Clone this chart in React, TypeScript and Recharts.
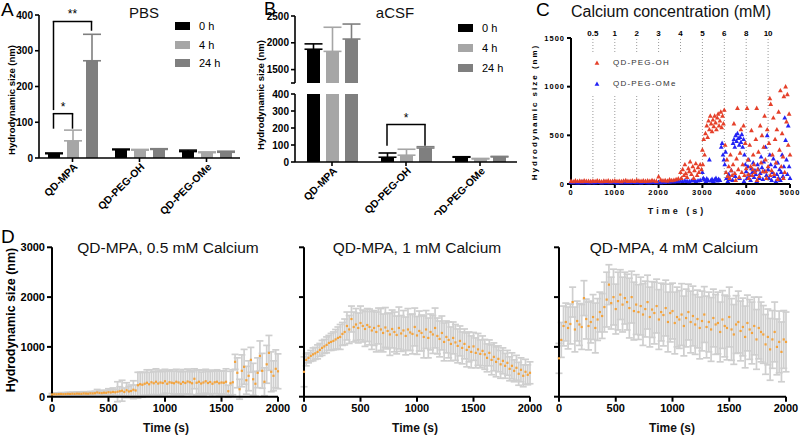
import React from "react";
import {
  BarChart,
  Bar,
  XAxis,
  YAxis,
  ErrorBar,
  ReferenceLine,
  ScatterChart,
  Scatter,
} from "recharts";

const FONT = "'Liberation Sans', Arial, Helvetica, sans-serif";

// ---- panel A / B : bar data ----
const groups = ["QD-MPA", "QD-PEG-OH", "QD-PEG-OMe"];
const seriesLabels = ["0 h", "4 h", "24 h"];
const seriesKeys = ["h0", "h4", "h24"];
const seriesColors = ["#000000", "#a6a6a6", "#7f7f7f"];

const pbs0h = [12, 23, 18];
const pbs4h = [48, 22, 15];
const pbs24h = [272, 24, 16];
const pbs0hErr = [2, 2, 4];
const pbs4hErr = [30, 2, 2];
const pbs24hErr = [74, 2, 3];

const csf0h = [1880, 28, 28];
const csf4h = [1840, 40, 18];
const csf24h = [2070, 82, 30];
const csf0hErr = [100, 25, 3];
const csf4hErr = [450, 35, 3];
const csf24hErr = [280, 8, 3];

// significance brackets: group, left bar, right bar, top, left leg end, right leg end, label
const pbsBrackets = [
  { group: "QD-MPA", from: 0, to: 1, top: 124, left: 82, right: 82, label: "*" },
  { group: "QD-MPA", from: 0, to: 2, top: 382, left: 134, right: 356, label: "**" },
];
const csfBrackets = [
  { group: "QD-PEG-OH", from: 0, to: 2, top: 220, left: 95, right: 95, label: "*" },
];

// ---- panel C : calcium titration, [time s, size nm] ----
const calciumSteps = [500, 1000, 1500, 2000, 2500, 3000, 3500, 4000, 4500];
const calciumLabels = ["0.5", "1", "2", "3", "4", "5", "6", "8", "10"];

const pegOH = [
  [0, 30], [50, 25], [100, 35], [150, 28], [200, 32], [250, 26], [300, 34], [350, 29], [400, 31], [450, 27],
  [500, 33], [550, 28], [600, 36], [650, 30], [700, 25], [750, 32], [800, 29], [850, 35], [900, 27], [950, 31],
  [1000, 34], [1050, 28], [1100, 30], [1150, 26], [1200, 33], [1250, 37], [1300, 29], [1350, 31], [1400, 35], [1450, 28],
  [1500, 40], [1550, 32], [1600, 30], [1650, 36], [1700, 29], [1750, 34], [1800, 31], [1850, 38], [1900, 33], [1950, 30],
  [2000, 75], [2050, 42], [2100, 34], [2150, 38], [2200, 32], [2250, 45], [2300, 37], [2350, 41], [2400, 48], [2450, 55],
  [2500, 120], [2520, 60], [2550, 150], [2580, 90], [2600, 200], [2620, 110], [2650, 70], [2680, 160], [2700, 130], [2720, 230],
  [2750, 100], [2780, 180], [2800, 60], [2820, 140], [2850, 210], [2880, 90], [2900, 170], [2920, 120], [2950, 200], [2980, 150],
  [3000, 350], [3010, 200], [3030, 460], [3050, 300], [3070, 520], [3100, 600], [3120, 480], [3140, 650], [3160, 560], [3180, 700],
  [3200, 620], [3220, 540], [3240, 660], [3260, 590], [3280, 700], [3300, 630], [3320, 560], [3340, 680], [3360, 720], [3380, 600],
  [3400, 650], [3420, 740], [3440, 580], [3460, 700], [3480, 620], [3500, 760],
  [3520, 400], [3540, 120], [3560, 250], [3580, 80], [3600, 180], [3620, 60], [3640, 300], [3660, 140], [3680, 90], [3700, 200],
  [3720, 620], [3740, 110], [3760, 40], [3780, 260], [3800, 780], [3820, 150], [3840, 70], [3860, 320], [3880, 560], [3900, 120],
  [3920, 200], [3940, 600], [3960, 90], [3980, 420], [4000, 160],
  [4020, 780], [4040, 250], [4060, 60], [4080, 400], [4100, 180], [4120, 550], [4140, 90], [4160, 300], [4180, 200], [4200, 120],
  [4220, 460], [4240, 780], [4260, 150], [4280, 330], [4300, 80], [4320, 600], [4340, 220], [4360, 500], [4380, 130], [4400, 380],
  [4420, 700], [4440, 250], [4460, 60], [4480, 560], [4500, 180], [4520, 420], [4540, 880], [4560, 820], [4580, 140], [4600, 300],
  [4620, 680], [4640, 100], [4660, 460], [4680, 220], [4700, 560], [4720, 50], [4740, 740], [4760, 350], [4780, 960], [4800, 180],
  [4820, 520], [4840, 280], [4860, 900], [4880, 120], [4900, 1000], [4920, 640], [4940, 920], [4960, 400], [4980, 720], [5000, 300],
  [4050, 100], [4250, 40], [4550, 90], [4850, 60], [4450, 130], [4150, 150],
];

const pegOMe = [
  [0, 18], [50, 15], [100, 20], [150, 14], [200, 17], [250, 22], [300, 16], [350, 19], [400, 13], [450, 21],
  [500, 17], [550, 15], [600, 20], [650, 18], [700, 14], [750, 22], [800, 16], [850, 19], [900, 15], [950, 21],
  [1000, 18], [1050, 14], [1100, 20], [1150, 17], [1200, 23], [1250, 16], [1300, 19], [1350, 15], [1400, 22], [1450, 18],
  [1500, 16], [1550, 20], [1600, 14], [1650, 19], [1700, 22], [1750, 17], [1800, 15], [1850, 21], [1900, 18], [1950, 16],
  [2000, 20], [2050, 17], [2100, 23], [2150, 19], [2200, 25], [2250, 21], [2300, 28], [2350, 24], [2400, 30], [2450, 26],
  [2500, 32], [2550, 28], [2600, 35], [2650, 30], [2700, 26], [2750, 33], [2800, 38], [2850, 29], [2900, 34], [2950, 40],
  [3000, 120], [3020, 60], [3050, 45], [3080, 30], [3100, 55], [3130, 40], [3160, 250], [3190, 35], [3220, 50], [3250, 30],
  [3280, 45], [3310, 60], [3340, 35], [3370, 50], [3400, 40], [3430, 380], [3450, 420], [3470, 300], [3490, 250], [3510, 200],
  [3530, 330], [3550, 60], [3580, 30], [3600, 100], [3630, 50], [3660, 140], [3690, 40],
  [3700, 420], [3720, 460], [3740, 380], [3760, 500], [3780, 440], [3800, 520], [3820, 470], [3840, 400], [3860, 480], [3880, 430],
  [3900, 510], [3920, 380], [3940, 460], [3960, 300], [3980, 200], [3750, 80], [3850, 60], [3950, 30],
  [4000, 130], [4020, 60], [4040, 180], [4060, 250], [4080, 90], [4100, 40], [4120, 160], [4140, 120], [4160, 220], [4180, 70],
  [4200, 140], [4220, 100], [4240, 30], [4260, 200], [4280, 150], [4300, 60], [4320, 110], [4340, 280], [4360, 170], [4380, 50],
  [4400, 230], [4420, 130], [4440, 380], [4460, 90], [4480, 500], [4500, 150], [4520, 60], [4540, 300], [4560, 200], [4580, 40],
  [4600, 120], [4620, 260], [4640, 80], [4660, 180], [4680, 30], [4700, 100], [4720, 220], [4740, 60], [4760, 150], [4780, 40],
  [4800, 120], [4820, 300], [4840, 80], [4860, 180], [4880, 680], [4900, 450], [4920, 250], [4940, 100], [4960, 600], [4980, 180],
  [5000, 60],
];

// ---- panel D : QD-MPA kinetics (every 20 s) ----
const kinTimes = [
  0, 20, 40, 60, 80, 100, 120, 140, 160, 180,
  200, 220, 240, 260, 280, 300, 320, 340, 360, 380,
  400, 420, 440, 460, 480, 500, 520, 540, 560, 580,
  600, 620, 640, 660, 680, 700, 720, 740, 760, 780,
  800, 820, 840, 860, 880, 900, 920, 940, 960, 980,
  1000, 1020, 1040, 1060, 1080, 1100, 1120, 1140, 1160, 1180,
  1200, 1220, 1240, 1260, 1280, 1300, 1320, 1340, 1360, 1380,
  1400, 1420, 1440, 1460, 1480, 1500, 1520, 1540, 1560, 1580,
  1600, 1620, 1640, 1660, 1680, 1700, 1720, 1740, 1760, 1780,
  1800, 1820, 1840, 1860, 1880, 1900, 1920, 1940, 1960, 1980,
  2000,
];

const ca05Size = [
  45, 50, 48, 52, 55, 50, 53, 58, 55, 60,
  57, 62, 60, 58, 65, 63, 60, 68, 66, 70,
  85, 75, 72, 80, 78, 90, 85, 95, 88, 100,
  110, 120, 95, 130, 105, 115, 140, 125, 230, 250,
  240, 260, 280, 250, 290, 270, 300, 265, 285, 275,
  310, 260, 290, 280, 270, 300, 285, 260, 295, 275,
  305, 290, 270, 360, 280, 300, 265, 285, 310, 275,
  295, 260, 290, 300, 270, 285, 280, 300, 110, 270,
  290, 700, 480, 150, 520, 600, 330, 420, 740, 350,
  260, 480, 820, 520, 300, 650, 880, 500, 420, 560,
  510,
];
const ca05Err = [
  20, 25, 22, 25, 28, 24, 26, 30, 28, 30,
  28, 32, 30, 30, 35, 32, 30, 36, 34, 38,
  60, 45, 40, 50, 45, 70, 55, 80, 60, 200,
  90, 210, 80, 150, 100, 120, 180, 110, 260, 240,
  250, 230, 260, 240, 250, 230, 260, 240, 250, 230,
  240, 250, 230, 260, 240, 250, 230, 240, 250, 230,
  250, 240, 230, 200, 250, 240, 230, 250, 240, 230,
  240, 250, 230, 240, 250, 230, 240, 260, 120, 240,
  250, 150, 300, 200, 320, 350, 280, 300, 250, 320,
  250, 300, 300, 350, 280, 380, 350, 400, 300, 380,
  350,
];

const ca1Size = [
  500, 740, 780, 820, 850, 870, 900, 940, 980, 1010,
  1040, 1080, 1100, 1120, 1150, 1180, 1200, 1260, 1300, 1420,
  1350, 1560, 1400, 1450, 1380, 1480, 1420, 1360, 1440, 1400,
  1330, 1380, 1300, 1420, 1350, 1280, 1390, 1320, 1250, 1360,
  1300, 1240, 1380, 1270, 1330, 1220, 1350, 1290, 1260, 1400,
  1230, 1320, 1280, 1200, 1350, 1180, 1300, 1250, 1380, 1220,
  1160, 1280, 1100, 1200, 1140, 1060, 1180, 1090, 1020, 1120,
  980, 1060, 940, 1000, 900, 1010, 880, 950, 860, 920,
  850, 780, 880, 740, 800, 700, 760, 650, 720, 620,
  680, 560, 620, 520, 580, 460, 540, 420, 500, 440,
  480,
];
const ca1Err = [
  300, 120, 100, 110, 130, 120, 140, 130, 150, 140,
  160, 150, 170, 180, 200, 220, 250, 230, 260, 280,
  280, 260, 300, 320, 300, 340, 320, 350, 330, 360,
  380, 350, 400, 360, 420, 380, 400, 360, 420, 380,
  400, 380, 420, 360, 400, 380, 420, 360, 400, 380,
  380, 400, 360, 420, 380, 400, 360, 380, 400, 360,
  360, 340, 380, 320, 360, 340, 320, 360, 340, 300,
  320, 300, 340, 300, 320, 280, 300, 320, 280, 300,
  300, 280, 260, 300, 280, 300, 260, 280, 260, 250,
  250, 240, 260, 220, 250, 230, 240, 220, 250, 200,
  220,
];

const ca4Size = [
  770, 1140, 1420, 1500, 1380, 1460, 1900, 1350, 1520, 1450,
  1400, 1980, 1560, 1420, 1500, 1600, 1380, 1550, 1700, 1620,
  1800, 1950, 2250, 1880, 2000, 1760, 1920, 2050, 1850, 1980,
  1900, 1780, 2000, 1720, 1850, 1700, 1820, 1650, 1760, 1900,
  1600, 1750, 1680, 1820, 1550, 1700, 1640, 1780, 1500, 1680,
  1720, 1480, 1600, 1550, 1650, 1420, 1580, 1700, 1500, 1620,
  1450, 1560, 1380, 1520, 1650, 1400, 1500, 1350, 1580, 1450,
  1480, 1300, 1550, 1420, 1380, 1600, 1350, 1250, 1450, 1500,
  1320, 1400, 1200, 1480, 1350, 1280, 1420, 1150, 1380, 1300,
  1250, 1050, 1200, 950, 1150, 1300, 1000, 1100, 900, 1150,
  1100,
];
const ca4Err = [
  300, 350, 400, 380, 420, 400, 300, 450, 400, 420,
  450, 350, 400, 480, 420, 450, 500, 420, 400, 450,
  500, 550, 400, 520, 560, 500, 580, 500, 550, 520,
  560, 600, 520, 580, 600, 550, 580, 620, 560, 540,
  600, 560, 620, 540, 600, 580, 620, 560, 600, 580,
  560, 620, 600, 580, 620, 600, 580, 560, 620, 600,
  600, 580, 620, 600, 560, 620, 600, 640, 580, 600,
  620, 600, 580, 620, 640, 600, 620, 600, 580, 620,
  600, 580, 620, 560, 600, 620, 580, 600, 620, 600,
  580, 600, 560, 620, 580, 600, 560, 620, 600, 580,
  600,
];

// ---- helpers ----
function barRows(means: number[][], errs: number[][]) {
  return groups.map((g, i) => ({
    name: g,
    h0: means[0][i],
    h4: means[1][i],
    h24: means[2][i],
    e0: [0, errs[0][i]],
    e4: [0, errs[1][i]],
    e24: [0, errs[2][i]],
  }));
}

const pbsRows = barRows([pbs0h, pbs4h, pbs24h], [pbs0hErr, pbs4hErr, pbs24hErr]);
const csfRows = barRows([csf0h, csf4h, csf24h], [csf0hErr, csf4hErr, csf24hErr]);
const csfUpper = csfRows.map((r) => ({
  ...r,
  h0: r.h0 >= 1250 ? r.h0 : null,
  h4: r.h4 >= 1250 ? r.h4 : null,
  h24: r.h24 >= 1250 ? r.h24 : null,
}));

const kin = (sizes: number[], errs: number[]) =>
  sizes.map((y, i) => ({ t: kinTimes[i], y, e: errs[i] }));
const kinPanels = [
  { title: "QD-MPA, 0.5 mM Calcium", data: kin(ca05Size, ca05Err) },
  { title: "QD-MPA, 1 mM Calcium", data: kin(ca1Size, ca1Err) },
  { title: "QD-MPA, 4 mM Calcium", data: kin(ca4Size, ca4Err) },
];

const BAR_OFFSETS = [-19, 0, 19];
const axisStyle = { stroke: "#000", strokeWidth: 1.6 };
const boldTick = (size: number) => ({ fontSize: size, fontWeight: 700, fill: "#000", fontFamily: FONT });

const SlantTick = (props: any) => {
  const { x, y, payload } = props;
  return (
    <g transform={`translate(${x + 3},${y + 1}) rotate(-45)`}>
      <text x={0} y={0} dy="0.35em" textAnchor="end" fontSize={10.5} fontWeight={700} fill="#000" fontFamily={FONT}>
        {payload.value}
      </text>
    </g>
  );
};

function bracketLines(b: any, key: string) {
  const dl = BAR_OFFSETS[b.from];
  const dr = BAR_OFFSETS[b.to];
  const line = (dx: number) => (p: any) => (
    <line x1={p.x1 + dx} y1={p.y1} x2={p.x2 + dx} y2={p.y2} stroke="#000" strokeWidth={1.5} />
  );
  return [
    <ReferenceLine key={key + "l"} segment={[{ x: b.group, y: b.top }, { x: b.group, y: b.left }]} shape={line(dl)} />,
    <ReferenceLine key={key + "r"} segment={[{ x: b.group, y: b.top }, { x: b.group, y: b.right }]} shape={line(dr)} />,
    <ReferenceLine
      key={key + "h"}
      segment={[{ x: b.group, y: b.top }, { x: b.group, y: b.top }]}
      shape={(p: any) => (
        <g>
          <line x1={p.x1 + dl - 0.75} y1={p.y1} x2={p.x1 + dr + 0.75} y2={p.y1} stroke="#000" strokeWidth={1.5} />
          <text x={p.x1 + (dl + dr) / 2} y={p.y1 - 3} textAnchor="middle" fontSize={12} fill="#000" stroke="none" fontFamily={FONT}>
            {b.label}
          </text>
        </g>
      )}
    />,
  ];
}

function renderBars(barSize: number) {
  return seriesKeys.map((k, j) => (
    <Bar key={k} dataKey={k} fill={seriesColors[j]} barSize={barSize} isAnimationActive={false}>
      <ErrorBar dataKey={"e" + k.slice(1)} direction="y" width={9} stroke={seriesColors[j]} strokeWidth={1.6} isAnimationActive={false} />
    </Bar>
  ));
}

const Letter = ({ x, y, size = 19, children }: any) => (
  <div style={{ position: "absolute", left: x, top: y, fontFamily: FONT, fontSize: size, lineHeight: 1 }}>{children}</div>
);

const VText = ({ x, y, text, size, spacing = 0 }: any) => (
  <div
    style={{
      position: "absolute",
      left: x,
      top: y,
      transform: "translate(-50%, -50%) rotate(-90deg)",
      whiteSpace: "nowrap",
      fontFamily: FONT,
      fontWeight: 700,
      fontSize: size,
      letterSpacing: spacing,
      lineHeight: 1,
    }}
  >
    {text}
  </div>
);

const CenterText = ({ x, y, text, size, bold = false, spacing = 0 }: any) => (
  <div
    style={{
      position: "absolute",
      left: x,
      top: y,
      transform: "translateX(-50%)",
      whiteSpace: "nowrap",
      fontFamily: FONT,
      fontSize: size,
      fontWeight: bold ? 700 : 400,
      letterSpacing: spacing,
      lineHeight: 1,
      color: "#111",
    }}
  >
    {text}
  </div>
);

const BarLegend = ({ x, ys }: any) => (
  <>
    {seriesLabels.map((s, j) => (
      <div key={s} style={{ position: "absolute", left: x, top: ys[j] - 6, height: 12, display: "flex", alignItems: "center", fontFamily: FONT, fontSize: 11 }}>
        <span style={{ display: "inline-block", width: 15, height: 8, background: seriesColors[j], marginRight: 9 }} />
        {s}
      </div>
    ))}
  </>
);

const triShape = (color: string) => (p: any) => {
  const { cx, cy } = p;
  if (cx == null || cy == null) return <g />;
  return <path d={`M${cx},${cy - 2.6}L${cx + 2.4},${cy + 1.8}L${cx - 2.4},${cy + 1.8}Z`} fill={color} />;
};

const dotShape = (p: any) => {
  if (p.cx == null || p.cy == null) return <g />;
  return <rect x={p.cx - 1.1} y={p.cy - 1.1} width={2.2} height={2.2} fill="#f3a23b" />;
};

const RED = "#e5402a";
const BLUE = "#2323f5";

export default function App() {
  const toPts = (arr: number[][]) => arr.map(([t, y]) => ({ t, y }));
  const kinLayout = [
    { left: 0, width: 300, ml: 10, yw: 42, mr: 22, labels: true, cx: 168 },
    { left: 262, width: 290, ml: 2, yw: 40, mr: 22, labels: false, cx: 417 },
    { left: 517, width: 283, ml: 2, yw: 40, mr: 14, labels: false, cx: 674 },
  ];

  return (
    <div style={{ position: "absolute", left: 0, top: 0, width: 800, height: 437, background: "#fff", overflow: "hidden", fontFamily: FONT }}>
      {/* ---------- A ---------- */}
      <Letter x={1} y={0}>A</Letter>
      <CenterText x={144} y={5} text="PBS" size={15} />
      <VText x={12} y={100} text="Hydrodynamic size (nm)" size={9.5} />
      <div style={{ position: "absolute", left: 0, top: 0 }}>
        <BarChart width={270} height={215} data={pbsRows} margin={{ top: 15, right: 30, bottom: 7, left: 9 }} barGap={7}>
          <XAxis dataKey="name" height={50} interval={0} tick={<SlantTick />} axisLine={axisStyle} tickLine={axisStyle} tickSize={4} />
          <YAxis width={30} domain={[0, 400]} ticks={[0, 100, 200, 300, 400]} tick={boldTick(10)} axisLine={axisStyle} tickLine={axisStyle} tickSize={4} />
          {renderBars(12)}
          {pbsBrackets.flatMap((b, i) => bracketLines(b, "pb" + i))}
        </BarChart>
      </div>
      <BarLegend x={175} ys={[26, 44.5, 63]} />

      {/* ---------- B ---------- */}
      <Letter x={264} y={0} size={18}>B</Letter>
      <CenterText x={395} y={5} text="aCSF" size={15} />
      <VText x={261} y={95} text="Hydrodynamic size (nm)" size={9.5} />
      <div style={{ position: "absolute", left: 260, top: 0 }}>
        <BarChart width={270} height={90} data={csfUpper} margin={{ top: 16, right: 13, bottom: 7, left: 3 }} barGap={6}>
          <XAxis dataKey="name" hide />
          <YAxis
            width={32}
            domain={[1250, 2500]}
            ticks={[1250, 1500, 2000, 2500]}
            tickFormatter={(v: number) => (v === 1250 ? "" : String(v))}
            tick={boldTick(10)}
            axisLine={axisStyle}
            tickLine={axisStyle}
            tickSize={4}
            allowDataOverflow
          />
          {renderBars(13)}
        </BarChart>
      </div>
      <div style={{ position: "absolute", left: 260, top: 85 }}>
        <BarChart width={270} height={130} data={csfRows} margin={{ top: 9, right: 13, bottom: 3, left: 3 }} barGap={6}>
          <XAxis dataKey="name" height={50} interval={0} tick={<SlantTick />} axisLine={axisStyle} tickLine={axisStyle} tickSize={4} />
          <YAxis width={32} domain={[0, 400]} ticks={[0, 100, 200, 300, 400]} tick={boldTick(10)} axisLine={axisStyle} tickLine={axisStyle} tickSize={4} allowDataOverflow />
          {renderBars(13)}
          {csfBrackets.flatMap((b, i) => bracketLines(b, "cb" + i))}
        </BarChart>
      </div>
      <BarLegend x={458} ys={[28, 48, 68]} />

      {/* ---------- C ---------- */}
      <Letter x={536} y={0}>C</Letter>
      <CenterText x={671} y={4} text="Calcium concentration (mM)" size={16} />
      <VText x={535} y={112} text="Hydrodynamic size (nm)" size={8} spacing={2} />
      <div style={{ position: "absolute", left: 530, top: 0 }}>
        <ScatterChart width={270} height={215} margin={{ top: 38, right: 10, bottom: 11, left: 5 }}>
          <XAxis
            type="number"
            dataKey="t"
            domain={[0, 5000]}
            ticks={[0, 1000, 2000, 3000, 4000, 5000]}
            height={20}
            tick={{ ...boldTick(7.5), letterSpacing: 1 }}
            axisLine={{ stroke: "#000", strokeWidth: 2 }}
            tickLine={{ stroke: "#000", strokeWidth: 2 }}
            tickSize={4}
          />
          <YAxis
            type="number"
            dataKey="y"
            domain={[0, 1500]}
            ticks={[0, 500, 1000, 1500]}
            width={36}
            tick={{ ...boldTick(7.5), letterSpacing: 1 }}
            axisLine={{ stroke: "#000", strokeWidth: 2 }}
            tickLine={{ stroke: "#000", strokeWidth: 2 }}
            tickSize={4}
          />
          {calciumSteps.map((t, i) => (
            <ReferenceLine
              key={t}
              x={t}
              stroke="#9a9a9a"
              strokeDasharray="1 2"
              label={{ value: calciumLabels[i], position: "top", offset: 2, fontSize: 8, fontWeight: 700, fill: "#000" }}
            />
          ))}
          <Scatter data={toPts(pegOMe)} shape={triShape(BLUE)} isAnimationActive={false} />
          <Scatter data={toPts(pegOH)} shape={triShape(RED)} isAnimationActive={false} />
        </ScatterChart>
      </div>
      <div style={{ position: "absolute", left: 591, top: 54, width: 100, height: 40, background: "#fff", fontFamily: FONT, fontSize: 8, letterSpacing: 1.2, color: "#333" }}>
        <div style={{ position: "absolute", left: 22, top: 4 }}>QD-PEG-OH</div>
        <div style={{ position: "absolute", left: 22, top: 25 }}>QD-PEG-OMe</div>
        <svg width={12} height={40} style={{ position: "absolute", left: 0, top: 0 }}>
          <path d="M6,6.4L8.4,10.8L3.6,10.8Z" fill={RED} />
          <path d="M6,27.4L8.4,31.8L3.6,31.8Z" fill={BLUE} />
        </svg>
      </div>
      <CenterText x={677} y={207} text="Time (s)" size={9} bold spacing={3} />

      {/* ---------- D ---------- */}
      <Letter x={1} y={227}>D</Letter>
      <VText x={11} y={320} text="Hydrodynamic size (nm)" size={12.5} />
      {kinPanels.map((p, i) => {
        const L = kinLayout[i];
        return (
          <React.Fragment key={p.title}>
            <div style={{ position: "absolute", left: L.left, top: 230 }}>
              <ScatterChart width={L.width} height={207} margin={{ top: 17.3, right: L.mr, bottom: 20.3, left: L.ml }}>
                <XAxis
                  type="number"
                  dataKey="t"
                  domain={[0, 2000]}
                  ticks={[0, 500, 1000, 1500, 2000]}
                  height={20}
                  tick={boldTick(11)}
                  axisLine={{ stroke: "#000", strokeWidth: 2 }}
                  tickLine={{ stroke: "#000", strokeWidth: 2 }}
                  tickSize={5}
                />
                <YAxis
                  type="number"
                  dataKey="y"
                  domain={[0, 3000]}
                  ticks={[0, 1000, 2000, 3000]}
                  width={L.yw}
                  tick={boldTick(11)}
                  tickFormatter={(v: number) => (L.labels ? String(v) : "")}
                  axisLine={{ stroke: "#000", strokeWidth: 2 }}
                  tickLine={{ stroke: "#000", strokeWidth: 2 }}
                  tickSize={5}
                  allowDataOverflow
                />
                <Scatter data={p.data} shape={dotShape} isAnimationActive={false}>
                  <ErrorBar dataKey="e" direction="y" width={3.5} stroke="#cfcfcf" strokeWidth={1.7} isAnimationActive={false} />
                </Scatter>
              </ScatterChart>
            </div>
            <CenterText x={L.cx} y={240} text={p.title} size={15.5} />
            <CenterText x={L.cx - 2} y={422} text="Time (s)" size={12} bold />
          </React.Fragment>
        );
      })}
    </div>
  );
}
